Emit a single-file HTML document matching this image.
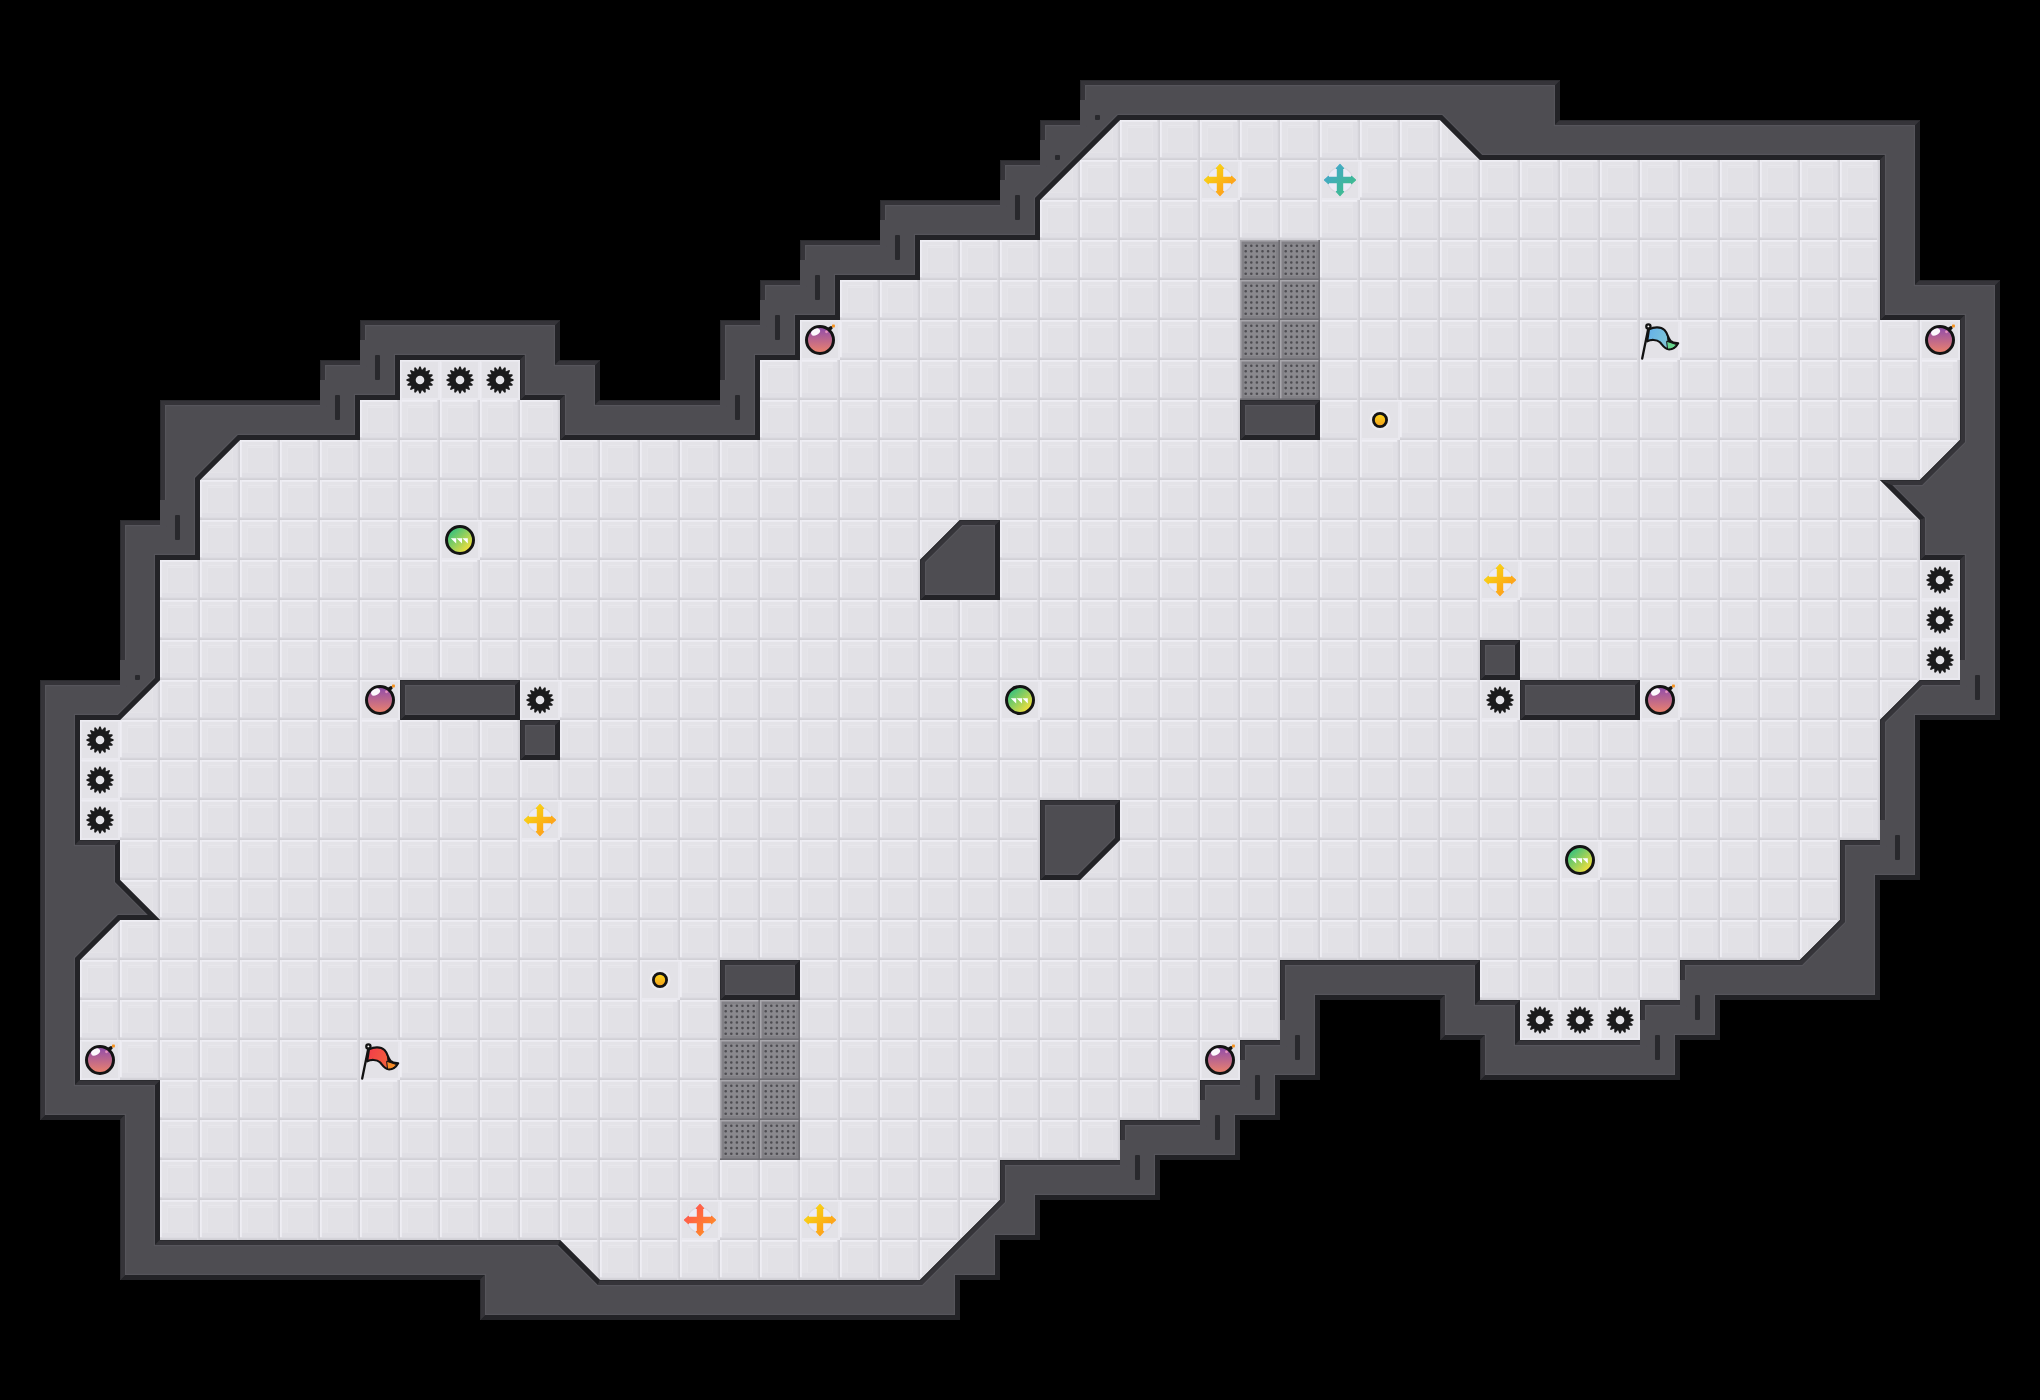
<!DOCTYPE html><html><head><meta charset="utf-8"><title>Map</title><style>html,body{margin:0;padding:0;background:#000}svg{display:block}</style></head><body>
<svg width="2040" height="1400" viewBox="0 0 2040 1400">
<defs>
<pattern id="fl" width="40" height="40" patternUnits="userSpaceOnUse">
<rect width="40" height="40" fill="#e2e1e6"/>
<rect width="40" height="7" fill="#e4e3e8"/><rect width="7" height="40" fill="#e4e3e8"/>
<rect y="33" width="40" height="7" fill="#e0dfe5"/><rect x="33" width="7" height="40" fill="#e0dfe5"/>
<path d="M7 7h26v1h-25v25h-1z" fill="#e6e5ea"/>
<path d="M33 33h-26l1 -1h24v-24l1 -1z" fill="#e4e3e8"/>
<rect x="8" y="5" width="24" height="1" fill="#e8e7ec"/>
<rect width="40" height="1" fill="#efeef4"/><rect y="1" width="40" height="1" fill="#ecebf1"/>
<rect width="1" height="40" fill="#efeef4"/><rect x="1" width="1" height="40" fill="#ecebf1"/>
<rect y="39" width="40" height="1" fill="#d1d0d6"/><rect y="38" width="40" height="1" fill="#d5d4da"/><rect y="37" width="40" height="1" fill="#dddce2"/>
<rect x="39" width="1" height="40" fill="#d1d0d6"/><rect x="38" width="1" height="40" fill="#d5d4da"/><rect x="37" width="1" height="40" fill="#dddce2"/>
</pattern>
<g id="ft"><rect width="40" height="40" fill="#e9e8ee"/><rect x="2" y="2" width="36" height="36" fill="#e3e2e7"/><rect width="40" height="1" fill="#edecf2"/><rect width="1" height="40" fill="#edecf2"/></g>
<linearGradient id="gb" x1="0" y1="0" x2="0" y2="1"><stop offset="0.1" stop-color="#9650a8"/><stop offset="1" stop-color="#ee846a"/></linearGradient>
<linearGradient id="gp" x1="0.15" y1="0.15" x2="0.85" y2="0.85"><stop offset="0" stop-color="#35c07e"/><stop offset="1" stop-color="#f6e03a"/></linearGradient>
<linearGradient id="gy" x1="0.1" y1="0.1" x2="0.9" y2="0.9"><stop offset="0" stop-color="#f7da12"/><stop offset="1" stop-color="#ff981c"/></linearGradient>
<linearGradient id="gbl" x1="0.1" y1="0.1" x2="0.9" y2="0.9"><stop offset="0" stop-color="#43a5d0"/><stop offset="1" stop-color="#3cbe86"/></linearGradient>
<linearGradient id="grd" x1="0.1" y1="0.1" x2="0.9" y2="0.9"><stop offset="0" stop-color="#ff5252"/><stop offset="1" stop-color="#ff8f24"/></linearGradient>
<linearGradient id="gbt" x1="0" y1="0" x2="0" y2="1"><stop offset="0" stop-color="#fcd81a"/><stop offset="1" stop-color="#f4a01e"/></linearGradient>
<linearGradient id="gfb" x1="0" y1="0" x2="1" y2="0.3"><stop offset="0" stop-color="#62aeea"/><stop offset="1" stop-color="#86ccd2"/></linearGradient>
<linearGradient id="gfr" x1="0" y1="0" x2="1" y2="0.3"><stop offset="0" stop-color="#f23a4a"/><stop offset="1" stop-color="#f2683a"/></linearGradient>
<g id="spike"><path d="M-1.99 -10 -0.66 -13.58 0.66 -13.58 1.99 -10 1.99 -10 4.58 -12.8 5.81 -12.3 5.67 -8.48 5.67 -8.48 9.14 -10.07 10.07 -9.14 8.48 -5.67 8.48 -5.67 12.3 -5.81 12.8 -4.58 10 -1.99 10 -1.99 13.58 -0.66 13.58 0.66 10 1.99 10 1.99 12.8 4.58 12.3 5.81 8.48 5.67 8.48 5.67 10.07 9.14 9.14 10.07 5.67 8.48 5.67 8.48 5.81 12.3 4.58 12.8 1.99 10 1.99 10 0.66 13.58 -0.66 13.58 -1.99 10 -1.99 10 -4.58 12.8 -5.81 12.3 -5.67 8.48 -5.67 8.48 -9.14 10.07 -10.07 9.14 -8.48 5.67 -8.48 5.67 -12.3 5.81 -12.8 4.58 -10 1.99 -10 1.99 -13.58 0.66 -13.58 -0.66 -10 -1.99 -10 -1.99 -12.8 -4.58 -12.3 -5.81 -8.48 -5.67 -8.48 -5.67 -10.07 -9.14 -9.14 -10.07 -5.67 -8.48 -5.67 -8.48 -5.81 -12.3 -4.58 -12.8 -1.99 -10z" fill="#1b1b1c"/><circle r="10.3" fill="#1b1b1c"/><circle r="4.3" fill="#e4e3e8"/></g>
<g id="bomb"><path d="M8.5 -10.5L10.8 -12" stroke="#141414" stroke-width="3.6" stroke-linecap="round"/><circle r="13.5" fill="url(#gb)" stroke="#141414" stroke-width="3"/><ellipse cx="-4.4" cy="-7.9" rx="4.8" ry="3.1" transform="rotate(-28 -4.4 -7.9)" fill="#fff" opacity="0.96"/><circle cx="6.5" cy="-8.2" r="1.4" fill="#f6a0c0" opacity="0.8"/><rect x="12" y="-15.4" width="2.9" height="2.9" rx="0.7" fill="#f7931e"/></g>
<g id="pup"><circle r="13.5" fill="url(#gp)" stroke="#141414" stroke-width="3"/><path d="M-9.2 -1.8h5.4v5.4zM-3.4 -1.8h5.4v5.4zM2.4 -1.8h5.4v5.4z" fill="#fff"/></g>
<g id="by"><circle r="13.2" fill="#cfced6" opacity="0.45"/><circle r="12" fill="#ecebf6"/><path d="M-2.6 -11.6L-3.6 -11.6L0 -15.5L3.6 -11.6L2.6 -11.6L2.6 -2.6L11.6 -2.6L11.6 -3.6L15.5 0L11.6 3.6L11.6 2.6L2.6 2.6L2.6 11.6L3.6 11.6L0 15.5L-3.6 11.6L-2.6 11.6L-2.6 2.6L-11.6 2.6L-11.6 3.6L-15.5 0L-11.6 -3.6L-11.6 -2.6L-2.6 -2.6z" fill="url(#gy)" stroke="url(#gy)" stroke-width="1.2" stroke-linejoin="round"/></g>
<g id="bb"><circle r="13.2" fill="#cfced6" opacity="0.45"/><circle r="12" fill="#ecebf6"/><path d="M-2.6 -11.6L-3.6 -11.6L0 -15.5L3.6 -11.6L2.6 -11.6L2.6 -2.6L11.6 -2.6L11.6 -3.6L15.5 0L11.6 3.6L11.6 2.6L2.6 2.6L2.6 11.6L3.6 11.6L0 15.5L-3.6 11.6L-2.6 11.6L-2.6 2.6L-11.6 2.6L-11.6 3.6L-15.5 0L-11.6 -3.6L-11.6 -2.6L-2.6 -2.6z" fill="url(#gbl)" stroke="url(#gbl)" stroke-width="1.2" stroke-linejoin="round"/></g>
<g id="br"><circle r="13.2" fill="#cfced6" opacity="0.45"/><circle r="12" fill="#ecebf6"/><path d="M-2.6 -11.6L-3.6 -11.6L0 -15.5L3.6 -11.6L2.6 -11.6L2.6 -2.6L11.6 -2.6L11.6 -3.6L15.5 0L11.6 3.6L11.6 2.6L2.6 2.6L2.6 11.6L3.6 11.6L0 15.5L-3.6 11.6L-2.6 11.6L-2.6 2.6L-11.6 2.6L-11.6 3.6L-15.5 0L-11.6 -3.6L-11.6 -2.6L-2.6 -2.6z" fill="url(#grd)" stroke="url(#grd)" stroke-width="1.2" stroke-linejoin="round"/></g>
<g id="btn"><circle r="10.5" fill="#fff" opacity="0.3"/><circle r="6.6" fill="url(#gbt)" stroke="#141414" stroke-width="2.8"/></g>
<g id="fb" stroke="#121212" stroke-width="2.1" stroke-linejoin="round" stroke-linecap="round"><path d="M9 9.4C13.5 7 20.5 6.2 24.5 10C27.5 13 28 18 30.5 20.8C33 23.4 36 23 38.2 23.2C36 27.2 32.5 29.6 28.2 29.3C24.3 28.9 22.6 25 20 22.3C16.5 19.3 11 19.3 7.2 21.3z" fill="url(#gfb)"/><path d="M26 12C28 14.8 28 18.2 30.5 20.8C33 23.4 36 23 38.2 23.2C37.8 24 37.4 24.6 37 25.2L27.4 21.6C27.2 18.5 27 15 26 12z" fill="#121212" stroke="none"/><path d="M27 21.4L36.6 24.6C34.6 27.6 31.4 29.3 27.9 29.1z" fill="#66d48c" stroke-width="1"/><path d="M8.3 8.5L2.2 38.6" fill="none" stroke-width="2.3"/><circle cx="8.4" cy="6.4" r="2.1" fill="#fff" stroke-width="2.3"/></g>
<g id="fr" stroke="#121212" stroke-width="2.1" stroke-linejoin="round" stroke-linecap="round"><path d="M9 9.4C13.5 7 20.5 6.2 24.5 10C27.5 13 28 18 30.5 20.8C33 23.4 36 23 38.2 23.2C36 27.2 32.5 29.6 28.2 29.3C24.3 28.9 22.6 25 20 22.3C16.5 19.3 11 19.3 7.2 21.3z" fill="url(#gfr)"/><path d="M26 12C28 14.8 28 18.2 30.5 20.8C33 23.4 36 23 38.2 23.2C37.8 24 37.4 24.6 37 25.2L27.4 21.6C27.2 18.5 27 15 26 12z" fill="#121212" stroke="none"/><path d="M27 21.4L36.6 24.6C34.6 27.6 31.4 29.3 27.9 29.1z" fill="#f58a26" stroke-width="1"/><path d="M8.3 8.5L2.2 38.6" fill="none" stroke-width="2.3"/><circle cx="8.4" cy="6.4" r="2.1" fill="#fff" stroke-width="2.3"/></g>
<g id="gate"><rect width="40" height="40" fill="#828186"/><rect x="4" y="4" width="32" height="32" fill="#8a898e"/><rect width="40" height="1.5" fill="#a9a8ad"/><rect width="1.5" height="40" fill="#a9a8ad"/><rect y="38.4" width="40" height="1.6" fill="#6e6d72"/><rect x="38.4" width="1.6" height="40" fill="#6e6d72"/>
<path d="M4.4 5.7a1.3 1.3 0 1 0 2.6 0a1.3 1.3 0 1 0 -2.6 0zM4.4 11.3a1.3 1.3 0 1 0 2.6 0a1.3 1.3 0 1 0 -2.6 0zM4.4 16.9a1.3 1.3 0 1 0 2.6 0a1.3 1.3 0 1 0 -2.6 0zM4.4 22.5a1.3 1.3 0 1 0 2.6 0a1.3 1.3 0 1 0 -2.6 0zM4.4 28.1a1.3 1.3 0 1 0 2.6 0a1.3 1.3 0 1 0 -2.6 0zM4.4 33.7a1.3 1.3 0 1 0 2.6 0a1.3 1.3 0 1 0 -2.6 0zM10 5.7a1.3 1.3 0 1 0 2.6 0a1.3 1.3 0 1 0 -2.6 0zM10 11.3a1.3 1.3 0 1 0 2.6 0a1.3 1.3 0 1 0 -2.6 0zM10 16.9a1.3 1.3 0 1 0 2.6 0a1.3 1.3 0 1 0 -2.6 0zM10 22.5a1.3 1.3 0 1 0 2.6 0a1.3 1.3 0 1 0 -2.6 0zM10 28.1a1.3 1.3 0 1 0 2.6 0a1.3 1.3 0 1 0 -2.6 0zM10 33.7a1.3 1.3 0 1 0 2.6 0a1.3 1.3 0 1 0 -2.6 0zM15.6 5.7a1.3 1.3 0 1 0 2.6 0a1.3 1.3 0 1 0 -2.6 0zM15.6 11.3a1.3 1.3 0 1 0 2.6 0a1.3 1.3 0 1 0 -2.6 0zM15.6 16.9a1.3 1.3 0 1 0 2.6 0a1.3 1.3 0 1 0 -2.6 0zM15.6 22.5a1.3 1.3 0 1 0 2.6 0a1.3 1.3 0 1 0 -2.6 0zM15.6 28.1a1.3 1.3 0 1 0 2.6 0a1.3 1.3 0 1 0 -2.6 0zM15.6 33.7a1.3 1.3 0 1 0 2.6 0a1.3 1.3 0 1 0 -2.6 0zM21.2 5.7a1.3 1.3 0 1 0 2.6 0a1.3 1.3 0 1 0 -2.6 0zM21.2 11.3a1.3 1.3 0 1 0 2.6 0a1.3 1.3 0 1 0 -2.6 0zM21.2 16.9a1.3 1.3 0 1 0 2.6 0a1.3 1.3 0 1 0 -2.6 0zM21.2 22.5a1.3 1.3 0 1 0 2.6 0a1.3 1.3 0 1 0 -2.6 0zM21.2 28.1a1.3 1.3 0 1 0 2.6 0a1.3 1.3 0 1 0 -2.6 0zM21.2 33.7a1.3 1.3 0 1 0 2.6 0a1.3 1.3 0 1 0 -2.6 0zM26.8 5.7a1.3 1.3 0 1 0 2.6 0a1.3 1.3 0 1 0 -2.6 0zM26.8 11.3a1.3 1.3 0 1 0 2.6 0a1.3 1.3 0 1 0 -2.6 0zM26.8 16.9a1.3 1.3 0 1 0 2.6 0a1.3 1.3 0 1 0 -2.6 0zM26.8 22.5a1.3 1.3 0 1 0 2.6 0a1.3 1.3 0 1 0 -2.6 0zM26.8 28.1a1.3 1.3 0 1 0 2.6 0a1.3 1.3 0 1 0 -2.6 0zM26.8 33.7a1.3 1.3 0 1 0 2.6 0a1.3 1.3 0 1 0 -2.6 0zM32.4 5.7a1.3 1.3 0 1 0 2.6 0a1.3 1.3 0 1 0 -2.6 0zM32.4 11.3a1.3 1.3 0 1 0 2.6 0a1.3 1.3 0 1 0 -2.6 0zM32.4 16.9a1.3 1.3 0 1 0 2.6 0a1.3 1.3 0 1 0 -2.6 0zM32.4 22.5a1.3 1.3 0 1 0 2.6 0a1.3 1.3 0 1 0 -2.6 0zM32.4 28.1a1.3 1.3 0 1 0 2.6 0a1.3 1.3 0 1 0 -2.6 0zM32.4 33.7a1.3 1.3 0 1 0 2.6 0a1.3 1.3 0 1 0 -2.6 0z" fill="#4d4c51"/></g>
</defs>
<rect width="2040" height="1400" fill="#000"/>
<path d="M1080 120h40v40h-40zM1120 120h40v40h-40zM1160 120h40v40h-40zM1200 120h40v40h-40zM1240 120h40v40h-40zM1280 120h40v40h-40zM1320 120h40v40h-40zM1360 120h40v40h-40zM1400 120h40v40h-40zM1440 120h40v40h-40zM1040 160h40v40h-40zM1080 160h40v40h-40zM1120 160h40v40h-40zM1160 160h40v40h-40zM1200 160h40v40h-40zM1240 160h40v40h-40zM1280 160h40v40h-40zM1320 160h40v40h-40zM1360 160h40v40h-40zM1400 160h40v40h-40zM1440 160h40v40h-40zM1480 160h40v40h-40zM1520 160h40v40h-40zM1560 160h40v40h-40zM1600 160h40v40h-40zM1640 160h40v40h-40zM1680 160h40v40h-40zM1720 160h40v40h-40zM1760 160h40v40h-40zM1800 160h40v40h-40zM1840 160h40v40h-40zM1040 200h40v40h-40zM1080 200h40v40h-40zM1120 200h40v40h-40zM1160 200h40v40h-40zM1200 200h40v40h-40zM1240 200h40v40h-40zM1280 200h40v40h-40zM1320 200h40v40h-40zM1360 200h40v40h-40zM1400 200h40v40h-40zM1440 200h40v40h-40zM1480 200h40v40h-40zM1520 200h40v40h-40zM1560 200h40v40h-40zM1600 200h40v40h-40zM1640 200h40v40h-40zM1680 200h40v40h-40zM1720 200h40v40h-40zM1760 200h40v40h-40zM1800 200h40v40h-40zM1840 200h40v40h-40zM920 240h40v40h-40zM960 240h40v40h-40zM1000 240h40v40h-40zM1040 240h40v40h-40zM1080 240h40v40h-40zM1120 240h40v40h-40zM1160 240h40v40h-40zM1200 240h40v40h-40zM1240 240h40v40h-40zM1280 240h40v40h-40zM1320 240h40v40h-40zM1360 240h40v40h-40zM1400 240h40v40h-40zM1440 240h40v40h-40zM1480 240h40v40h-40zM1520 240h40v40h-40zM1560 240h40v40h-40zM1600 240h40v40h-40zM1640 240h40v40h-40zM1680 240h40v40h-40zM1720 240h40v40h-40zM1760 240h40v40h-40zM1800 240h40v40h-40zM1840 240h40v40h-40zM840 280h40v40h-40zM880 280h40v40h-40zM920 280h40v40h-40zM960 280h40v40h-40zM1000 280h40v40h-40zM1040 280h40v40h-40zM1080 280h40v40h-40zM1120 280h40v40h-40zM1160 280h40v40h-40zM1200 280h40v40h-40zM1240 280h40v40h-40zM1280 280h40v40h-40zM1320 280h40v40h-40zM1360 280h40v40h-40zM1400 280h40v40h-40zM1440 280h40v40h-40zM1480 280h40v40h-40zM1520 280h40v40h-40zM1560 280h40v40h-40zM1600 280h40v40h-40zM1640 280h40v40h-40zM1680 280h40v40h-40zM1720 280h40v40h-40zM1760 280h40v40h-40zM1800 280h40v40h-40zM1840 280h40v40h-40zM800 320h40v40h-40zM840 320h40v40h-40zM880 320h40v40h-40zM920 320h40v40h-40zM960 320h40v40h-40zM1000 320h40v40h-40zM1040 320h40v40h-40zM1080 320h40v40h-40zM1120 320h40v40h-40zM1160 320h40v40h-40zM1200 320h40v40h-40zM1240 320h40v40h-40zM1280 320h40v40h-40zM1320 320h40v40h-40zM1360 320h40v40h-40zM1400 320h40v40h-40zM1440 320h40v40h-40zM1480 320h40v40h-40zM1520 320h40v40h-40zM1560 320h40v40h-40zM1600 320h40v40h-40zM1640 320h40v40h-40zM1680 320h40v40h-40zM1720 320h40v40h-40zM1760 320h40v40h-40zM1800 320h40v40h-40zM1840 320h40v40h-40zM1880 320h40v40h-40zM1920 320h40v40h-40zM400 360h40v40h-40zM440 360h40v40h-40zM480 360h40v40h-40zM760 360h40v40h-40zM800 360h40v40h-40zM840 360h40v40h-40zM880 360h40v40h-40zM920 360h40v40h-40zM960 360h40v40h-40zM1000 360h40v40h-40zM1040 360h40v40h-40zM1080 360h40v40h-40zM1120 360h40v40h-40zM1160 360h40v40h-40zM1200 360h40v40h-40zM1240 360h40v40h-40zM1280 360h40v40h-40zM1320 360h40v40h-40zM1360 360h40v40h-40zM1400 360h40v40h-40zM1440 360h40v40h-40zM1480 360h40v40h-40zM1520 360h40v40h-40zM1560 360h40v40h-40zM1600 360h40v40h-40zM1640 360h40v40h-40zM1680 360h40v40h-40zM1720 360h40v40h-40zM1760 360h40v40h-40zM1800 360h40v40h-40zM1840 360h40v40h-40zM1880 360h40v40h-40zM1920 360h40v40h-40zM360 400h40v40h-40zM400 400h40v40h-40zM440 400h40v40h-40zM480 400h40v40h-40zM520 400h40v40h-40zM760 400h40v40h-40zM800 400h40v40h-40zM840 400h40v40h-40zM880 400h40v40h-40zM920 400h40v40h-40zM960 400h40v40h-40zM1000 400h40v40h-40zM1040 400h40v40h-40zM1080 400h40v40h-40zM1120 400h40v40h-40zM1160 400h40v40h-40zM1200 400h40v40h-40zM1320 400h40v40h-40zM1360 400h40v40h-40zM1400 400h40v40h-40zM1440 400h40v40h-40zM1480 400h40v40h-40zM1520 400h40v40h-40zM1560 400h40v40h-40zM1600 400h40v40h-40zM1640 400h40v40h-40zM1680 400h40v40h-40zM1720 400h40v40h-40zM1760 400h40v40h-40zM1800 400h40v40h-40zM1840 400h40v40h-40zM1880 400h40v40h-40zM1920 400h40v40h-40zM200 440h40v40h-40zM240 440h40v40h-40zM280 440h40v40h-40zM320 440h40v40h-40zM360 440h40v40h-40zM400 440h40v40h-40zM440 440h40v40h-40zM480 440h40v40h-40zM520 440h40v40h-40zM560 440h40v40h-40zM600 440h40v40h-40zM640 440h40v40h-40zM680 440h40v40h-40zM720 440h40v40h-40zM760 440h40v40h-40zM800 440h40v40h-40zM840 440h40v40h-40zM880 440h40v40h-40zM920 440h40v40h-40zM960 440h40v40h-40zM1000 440h40v40h-40zM1040 440h40v40h-40zM1080 440h40v40h-40zM1120 440h40v40h-40zM1160 440h40v40h-40zM1200 440h40v40h-40zM1240 440h40v40h-40zM1280 440h40v40h-40zM1320 440h40v40h-40zM1360 440h40v40h-40zM1400 440h40v40h-40zM1440 440h40v40h-40zM1480 440h40v40h-40zM1520 440h40v40h-40zM1560 440h40v40h-40zM1600 440h40v40h-40zM1640 440h40v40h-40zM1680 440h40v40h-40zM1720 440h40v40h-40zM1760 440h40v40h-40zM1800 440h40v40h-40zM1840 440h40v40h-40zM1880 440h40v40h-40zM1920 440h40v40h-40zM200 480h40v40h-40zM240 480h40v40h-40zM280 480h40v40h-40zM320 480h40v40h-40zM360 480h40v40h-40zM400 480h40v40h-40zM440 480h40v40h-40zM480 480h40v40h-40zM520 480h40v40h-40zM560 480h40v40h-40zM600 480h40v40h-40zM640 480h40v40h-40zM680 480h40v40h-40zM720 480h40v40h-40zM760 480h40v40h-40zM800 480h40v40h-40zM840 480h40v40h-40zM880 480h40v40h-40zM920 480h40v40h-40zM960 480h40v40h-40zM1000 480h40v40h-40zM1040 480h40v40h-40zM1080 480h40v40h-40zM1120 480h40v40h-40zM1160 480h40v40h-40zM1200 480h40v40h-40zM1240 480h40v40h-40zM1280 480h40v40h-40zM1320 480h40v40h-40zM1360 480h40v40h-40zM1400 480h40v40h-40zM1440 480h40v40h-40zM1480 480h40v40h-40zM1520 480h40v40h-40zM1560 480h40v40h-40zM1600 480h40v40h-40zM1640 480h40v40h-40zM1680 480h40v40h-40zM1720 480h40v40h-40zM1760 480h40v40h-40zM1800 480h40v40h-40zM1840 480h40v40h-40zM1880 480h40v40h-40zM200 520h40v40h-40zM240 520h40v40h-40zM280 520h40v40h-40zM320 520h40v40h-40zM360 520h40v40h-40zM400 520h40v40h-40zM440 520h40v40h-40zM480 520h40v40h-40zM520 520h40v40h-40zM560 520h40v40h-40zM600 520h40v40h-40zM640 520h40v40h-40zM680 520h40v40h-40zM720 520h40v40h-40zM760 520h40v40h-40zM800 520h40v40h-40zM840 520h40v40h-40zM880 520h40v40h-40zM920 520h40v40h-40zM1000 520h40v40h-40zM1040 520h40v40h-40zM1080 520h40v40h-40zM1120 520h40v40h-40zM1160 520h40v40h-40zM1200 520h40v40h-40zM1240 520h40v40h-40zM1280 520h40v40h-40zM1320 520h40v40h-40zM1360 520h40v40h-40zM1400 520h40v40h-40zM1440 520h40v40h-40zM1480 520h40v40h-40zM1520 520h40v40h-40zM1560 520h40v40h-40zM1600 520h40v40h-40zM1640 520h40v40h-40zM1680 520h40v40h-40zM1720 520h40v40h-40zM1760 520h40v40h-40zM1800 520h40v40h-40zM1840 520h40v40h-40zM1880 520h40v40h-40zM160 560h40v40h-40zM200 560h40v40h-40zM240 560h40v40h-40zM280 560h40v40h-40zM320 560h40v40h-40zM360 560h40v40h-40zM400 560h40v40h-40zM440 560h40v40h-40zM480 560h40v40h-40zM520 560h40v40h-40zM560 560h40v40h-40zM600 560h40v40h-40zM640 560h40v40h-40zM680 560h40v40h-40zM720 560h40v40h-40zM760 560h40v40h-40zM800 560h40v40h-40zM840 560h40v40h-40zM880 560h40v40h-40zM1000 560h40v40h-40zM1040 560h40v40h-40zM1080 560h40v40h-40zM1120 560h40v40h-40zM1160 560h40v40h-40zM1200 560h40v40h-40zM1240 560h40v40h-40zM1280 560h40v40h-40zM1320 560h40v40h-40zM1360 560h40v40h-40zM1400 560h40v40h-40zM1440 560h40v40h-40zM1480 560h40v40h-40zM1520 560h40v40h-40zM1560 560h40v40h-40zM1600 560h40v40h-40zM1640 560h40v40h-40zM1680 560h40v40h-40zM1720 560h40v40h-40zM1760 560h40v40h-40zM1800 560h40v40h-40zM1840 560h40v40h-40zM1880 560h40v40h-40zM1920 560h40v40h-40zM160 600h40v40h-40zM200 600h40v40h-40zM240 600h40v40h-40zM280 600h40v40h-40zM320 600h40v40h-40zM360 600h40v40h-40zM400 600h40v40h-40zM440 600h40v40h-40zM480 600h40v40h-40zM520 600h40v40h-40zM560 600h40v40h-40zM600 600h40v40h-40zM640 600h40v40h-40zM680 600h40v40h-40zM720 600h40v40h-40zM760 600h40v40h-40zM800 600h40v40h-40zM840 600h40v40h-40zM880 600h40v40h-40zM920 600h40v40h-40zM960 600h40v40h-40zM1000 600h40v40h-40zM1040 600h40v40h-40zM1080 600h40v40h-40zM1120 600h40v40h-40zM1160 600h40v40h-40zM1200 600h40v40h-40zM1240 600h40v40h-40zM1280 600h40v40h-40zM1320 600h40v40h-40zM1360 600h40v40h-40zM1400 600h40v40h-40zM1440 600h40v40h-40zM1480 600h40v40h-40zM1520 600h40v40h-40zM1560 600h40v40h-40zM1600 600h40v40h-40zM1640 600h40v40h-40zM1680 600h40v40h-40zM1720 600h40v40h-40zM1760 600h40v40h-40zM1800 600h40v40h-40zM1840 600h40v40h-40zM1880 600h40v40h-40zM1920 600h40v40h-40zM160 640h40v40h-40zM200 640h40v40h-40zM240 640h40v40h-40zM280 640h40v40h-40zM320 640h40v40h-40zM360 640h40v40h-40zM400 640h40v40h-40zM440 640h40v40h-40zM480 640h40v40h-40zM520 640h40v40h-40zM560 640h40v40h-40zM600 640h40v40h-40zM640 640h40v40h-40zM680 640h40v40h-40zM720 640h40v40h-40zM760 640h40v40h-40zM800 640h40v40h-40zM840 640h40v40h-40zM880 640h40v40h-40zM920 640h40v40h-40zM960 640h40v40h-40zM1000 640h40v40h-40zM1040 640h40v40h-40zM1080 640h40v40h-40zM1120 640h40v40h-40zM1160 640h40v40h-40zM1200 640h40v40h-40zM1240 640h40v40h-40zM1280 640h40v40h-40zM1320 640h40v40h-40zM1360 640h40v40h-40zM1400 640h40v40h-40zM1440 640h40v40h-40zM1520 640h40v40h-40zM1560 640h40v40h-40zM1600 640h40v40h-40zM1640 640h40v40h-40zM1680 640h40v40h-40zM1720 640h40v40h-40zM1760 640h40v40h-40zM1800 640h40v40h-40zM1840 640h40v40h-40zM1880 640h40v40h-40zM1920 640h40v40h-40zM120 680h40v40h-40zM160 680h40v40h-40zM200 680h40v40h-40zM240 680h40v40h-40zM280 680h40v40h-40zM320 680h40v40h-40zM360 680h40v40h-40zM520 680h40v40h-40zM560 680h40v40h-40zM600 680h40v40h-40zM640 680h40v40h-40zM680 680h40v40h-40zM720 680h40v40h-40zM760 680h40v40h-40zM800 680h40v40h-40zM840 680h40v40h-40zM880 680h40v40h-40zM920 680h40v40h-40zM960 680h40v40h-40zM1000 680h40v40h-40zM1040 680h40v40h-40zM1080 680h40v40h-40zM1120 680h40v40h-40zM1160 680h40v40h-40zM1200 680h40v40h-40zM1240 680h40v40h-40zM1280 680h40v40h-40zM1320 680h40v40h-40zM1360 680h40v40h-40zM1400 680h40v40h-40zM1440 680h40v40h-40zM1480 680h40v40h-40zM1640 680h40v40h-40zM1680 680h40v40h-40zM1720 680h40v40h-40zM1760 680h40v40h-40zM1800 680h40v40h-40zM1840 680h40v40h-40zM1880 680h40v40h-40zM80 720h40v40h-40zM120 720h40v40h-40zM160 720h40v40h-40zM200 720h40v40h-40zM240 720h40v40h-40zM280 720h40v40h-40zM320 720h40v40h-40zM360 720h40v40h-40zM400 720h40v40h-40zM440 720h40v40h-40zM480 720h40v40h-40zM560 720h40v40h-40zM600 720h40v40h-40zM640 720h40v40h-40zM680 720h40v40h-40zM720 720h40v40h-40zM760 720h40v40h-40zM800 720h40v40h-40zM840 720h40v40h-40zM880 720h40v40h-40zM920 720h40v40h-40zM960 720h40v40h-40zM1000 720h40v40h-40zM1040 720h40v40h-40zM1080 720h40v40h-40zM1120 720h40v40h-40zM1160 720h40v40h-40zM1200 720h40v40h-40zM1240 720h40v40h-40zM1280 720h40v40h-40zM1320 720h40v40h-40zM1360 720h40v40h-40zM1400 720h40v40h-40zM1440 720h40v40h-40zM1480 720h40v40h-40zM1520 720h40v40h-40zM1560 720h40v40h-40zM1600 720h40v40h-40zM1640 720h40v40h-40zM1680 720h40v40h-40zM1720 720h40v40h-40zM1760 720h40v40h-40zM1800 720h40v40h-40zM1840 720h40v40h-40zM80 760h40v40h-40zM120 760h40v40h-40zM160 760h40v40h-40zM200 760h40v40h-40zM240 760h40v40h-40zM280 760h40v40h-40zM320 760h40v40h-40zM360 760h40v40h-40zM400 760h40v40h-40zM440 760h40v40h-40zM480 760h40v40h-40zM520 760h40v40h-40zM560 760h40v40h-40zM600 760h40v40h-40zM640 760h40v40h-40zM680 760h40v40h-40zM720 760h40v40h-40zM760 760h40v40h-40zM800 760h40v40h-40zM840 760h40v40h-40zM880 760h40v40h-40zM920 760h40v40h-40zM960 760h40v40h-40zM1000 760h40v40h-40zM1040 760h40v40h-40zM1080 760h40v40h-40zM1120 760h40v40h-40zM1160 760h40v40h-40zM1200 760h40v40h-40zM1240 760h40v40h-40zM1280 760h40v40h-40zM1320 760h40v40h-40zM1360 760h40v40h-40zM1400 760h40v40h-40zM1440 760h40v40h-40zM1480 760h40v40h-40zM1520 760h40v40h-40zM1560 760h40v40h-40zM1600 760h40v40h-40zM1640 760h40v40h-40zM1680 760h40v40h-40zM1720 760h40v40h-40zM1760 760h40v40h-40zM1800 760h40v40h-40zM1840 760h40v40h-40zM80 800h40v40h-40zM120 800h40v40h-40zM160 800h40v40h-40zM200 800h40v40h-40zM240 800h40v40h-40zM280 800h40v40h-40zM320 800h40v40h-40zM360 800h40v40h-40zM400 800h40v40h-40zM440 800h40v40h-40zM480 800h40v40h-40zM520 800h40v40h-40zM560 800h40v40h-40zM600 800h40v40h-40zM640 800h40v40h-40zM680 800h40v40h-40zM720 800h40v40h-40zM760 800h40v40h-40zM800 800h40v40h-40zM840 800h40v40h-40zM880 800h40v40h-40zM920 800h40v40h-40zM960 800h40v40h-40zM1000 800h40v40h-40zM1120 800h40v40h-40zM1160 800h40v40h-40zM1200 800h40v40h-40zM1240 800h40v40h-40zM1280 800h40v40h-40zM1320 800h40v40h-40zM1360 800h40v40h-40zM1400 800h40v40h-40zM1440 800h40v40h-40zM1480 800h40v40h-40zM1520 800h40v40h-40zM1560 800h40v40h-40zM1600 800h40v40h-40zM1640 800h40v40h-40zM1680 800h40v40h-40zM1720 800h40v40h-40zM1760 800h40v40h-40zM1800 800h40v40h-40zM1840 800h40v40h-40zM120 840h40v40h-40zM160 840h40v40h-40zM200 840h40v40h-40zM240 840h40v40h-40zM280 840h40v40h-40zM320 840h40v40h-40zM360 840h40v40h-40zM400 840h40v40h-40zM440 840h40v40h-40zM480 840h40v40h-40zM520 840h40v40h-40zM560 840h40v40h-40zM600 840h40v40h-40zM640 840h40v40h-40zM680 840h40v40h-40zM720 840h40v40h-40zM760 840h40v40h-40zM800 840h40v40h-40zM840 840h40v40h-40zM880 840h40v40h-40zM920 840h40v40h-40zM960 840h40v40h-40zM1000 840h40v40h-40zM1080 840h40v40h-40zM1120 840h40v40h-40zM1160 840h40v40h-40zM1200 840h40v40h-40zM1240 840h40v40h-40zM1280 840h40v40h-40zM1320 840h40v40h-40zM1360 840h40v40h-40zM1400 840h40v40h-40zM1440 840h40v40h-40zM1480 840h40v40h-40zM1520 840h40v40h-40zM1560 840h40v40h-40zM1600 840h40v40h-40zM1640 840h40v40h-40zM1680 840h40v40h-40zM1720 840h40v40h-40zM1760 840h40v40h-40zM1800 840h40v40h-40zM120 880h40v40h-40zM160 880h40v40h-40zM200 880h40v40h-40zM240 880h40v40h-40zM280 880h40v40h-40zM320 880h40v40h-40zM360 880h40v40h-40zM400 880h40v40h-40zM440 880h40v40h-40zM480 880h40v40h-40zM520 880h40v40h-40zM560 880h40v40h-40zM600 880h40v40h-40zM640 880h40v40h-40zM680 880h40v40h-40zM720 880h40v40h-40zM760 880h40v40h-40zM800 880h40v40h-40zM840 880h40v40h-40zM880 880h40v40h-40zM920 880h40v40h-40zM960 880h40v40h-40zM1000 880h40v40h-40zM1040 880h40v40h-40zM1080 880h40v40h-40zM1120 880h40v40h-40zM1160 880h40v40h-40zM1200 880h40v40h-40zM1240 880h40v40h-40zM1280 880h40v40h-40zM1320 880h40v40h-40zM1360 880h40v40h-40zM1400 880h40v40h-40zM1440 880h40v40h-40zM1480 880h40v40h-40zM1520 880h40v40h-40zM1560 880h40v40h-40zM1600 880h40v40h-40zM1640 880h40v40h-40zM1680 880h40v40h-40zM1720 880h40v40h-40zM1760 880h40v40h-40zM1800 880h40v40h-40zM80 920h40v40h-40zM120 920h40v40h-40zM160 920h40v40h-40zM200 920h40v40h-40zM240 920h40v40h-40zM280 920h40v40h-40zM320 920h40v40h-40zM360 920h40v40h-40zM400 920h40v40h-40zM440 920h40v40h-40zM480 920h40v40h-40zM520 920h40v40h-40zM560 920h40v40h-40zM600 920h40v40h-40zM640 920h40v40h-40zM680 920h40v40h-40zM720 920h40v40h-40zM760 920h40v40h-40zM800 920h40v40h-40zM840 920h40v40h-40zM880 920h40v40h-40zM920 920h40v40h-40zM960 920h40v40h-40zM1000 920h40v40h-40zM1040 920h40v40h-40zM1080 920h40v40h-40zM1120 920h40v40h-40zM1160 920h40v40h-40zM1200 920h40v40h-40zM1240 920h40v40h-40zM1280 920h40v40h-40zM1320 920h40v40h-40zM1360 920h40v40h-40zM1400 920h40v40h-40zM1440 920h40v40h-40zM1480 920h40v40h-40zM1520 920h40v40h-40zM1560 920h40v40h-40zM1600 920h40v40h-40zM1640 920h40v40h-40zM1680 920h40v40h-40zM1720 920h40v40h-40zM1760 920h40v40h-40zM1800 920h40v40h-40zM80 960h40v40h-40zM120 960h40v40h-40zM160 960h40v40h-40zM200 960h40v40h-40zM240 960h40v40h-40zM280 960h40v40h-40zM320 960h40v40h-40zM360 960h40v40h-40zM400 960h40v40h-40zM440 960h40v40h-40zM480 960h40v40h-40zM520 960h40v40h-40zM560 960h40v40h-40zM600 960h40v40h-40zM640 960h40v40h-40zM680 960h40v40h-40zM800 960h40v40h-40zM840 960h40v40h-40zM880 960h40v40h-40zM920 960h40v40h-40zM960 960h40v40h-40zM1000 960h40v40h-40zM1040 960h40v40h-40zM1080 960h40v40h-40zM1120 960h40v40h-40zM1160 960h40v40h-40zM1200 960h40v40h-40zM1240 960h40v40h-40zM1480 960h40v40h-40zM1520 960h40v40h-40zM1560 960h40v40h-40zM1600 960h40v40h-40zM1640 960h40v40h-40zM80 1000h40v40h-40zM120 1000h40v40h-40zM160 1000h40v40h-40zM200 1000h40v40h-40zM240 1000h40v40h-40zM280 1000h40v40h-40zM320 1000h40v40h-40zM360 1000h40v40h-40zM400 1000h40v40h-40zM440 1000h40v40h-40zM480 1000h40v40h-40zM520 1000h40v40h-40zM560 1000h40v40h-40zM600 1000h40v40h-40zM640 1000h40v40h-40zM680 1000h40v40h-40zM720 1000h40v40h-40zM760 1000h40v40h-40zM800 1000h40v40h-40zM840 1000h40v40h-40zM880 1000h40v40h-40zM920 1000h40v40h-40zM960 1000h40v40h-40zM1000 1000h40v40h-40zM1040 1000h40v40h-40zM1080 1000h40v40h-40zM1120 1000h40v40h-40zM1160 1000h40v40h-40zM1200 1000h40v40h-40zM1240 1000h40v40h-40zM1520 1000h40v40h-40zM1560 1000h40v40h-40zM1600 1000h40v40h-40zM80 1040h40v40h-40zM120 1040h40v40h-40zM160 1040h40v40h-40zM200 1040h40v40h-40zM240 1040h40v40h-40zM280 1040h40v40h-40zM320 1040h40v40h-40zM360 1040h40v40h-40zM400 1040h40v40h-40zM440 1040h40v40h-40zM480 1040h40v40h-40zM520 1040h40v40h-40zM560 1040h40v40h-40zM600 1040h40v40h-40zM640 1040h40v40h-40zM680 1040h40v40h-40zM720 1040h40v40h-40zM760 1040h40v40h-40zM800 1040h40v40h-40zM840 1040h40v40h-40zM880 1040h40v40h-40zM920 1040h40v40h-40zM960 1040h40v40h-40zM1000 1040h40v40h-40zM1040 1040h40v40h-40zM1080 1040h40v40h-40zM1120 1040h40v40h-40zM1160 1040h40v40h-40zM1200 1040h40v40h-40zM160 1080h40v40h-40zM200 1080h40v40h-40zM240 1080h40v40h-40zM280 1080h40v40h-40zM320 1080h40v40h-40zM360 1080h40v40h-40zM400 1080h40v40h-40zM440 1080h40v40h-40zM480 1080h40v40h-40zM520 1080h40v40h-40zM560 1080h40v40h-40zM600 1080h40v40h-40zM640 1080h40v40h-40zM680 1080h40v40h-40zM720 1080h40v40h-40zM760 1080h40v40h-40zM800 1080h40v40h-40zM840 1080h40v40h-40zM880 1080h40v40h-40zM920 1080h40v40h-40zM960 1080h40v40h-40zM1000 1080h40v40h-40zM1040 1080h40v40h-40zM1080 1080h40v40h-40zM1120 1080h40v40h-40zM1160 1080h40v40h-40zM160 1120h40v40h-40zM200 1120h40v40h-40zM240 1120h40v40h-40zM280 1120h40v40h-40zM320 1120h40v40h-40zM360 1120h40v40h-40zM400 1120h40v40h-40zM440 1120h40v40h-40zM480 1120h40v40h-40zM520 1120h40v40h-40zM560 1120h40v40h-40zM600 1120h40v40h-40zM640 1120h40v40h-40zM680 1120h40v40h-40zM720 1120h40v40h-40zM760 1120h40v40h-40zM800 1120h40v40h-40zM840 1120h40v40h-40zM880 1120h40v40h-40zM920 1120h40v40h-40zM960 1120h40v40h-40zM1000 1120h40v40h-40zM1040 1120h40v40h-40zM1080 1120h40v40h-40zM160 1160h40v40h-40zM200 1160h40v40h-40zM240 1160h40v40h-40zM280 1160h40v40h-40zM320 1160h40v40h-40zM360 1160h40v40h-40zM400 1160h40v40h-40zM440 1160h40v40h-40zM480 1160h40v40h-40zM520 1160h40v40h-40zM560 1160h40v40h-40zM600 1160h40v40h-40zM640 1160h40v40h-40zM680 1160h40v40h-40zM720 1160h40v40h-40zM760 1160h40v40h-40zM800 1160h40v40h-40zM840 1160h40v40h-40zM880 1160h40v40h-40zM920 1160h40v40h-40zM960 1160h40v40h-40zM160 1200h40v40h-40zM200 1200h40v40h-40zM240 1200h40v40h-40zM280 1200h40v40h-40zM320 1200h40v40h-40zM360 1200h40v40h-40zM400 1200h40v40h-40zM440 1200h40v40h-40zM480 1200h40v40h-40zM520 1200h40v40h-40zM560 1200h40v40h-40zM600 1200h40v40h-40zM640 1200h40v40h-40zM680 1200h40v40h-40zM720 1200h40v40h-40zM760 1200h40v40h-40zM800 1200h40v40h-40zM840 1200h40v40h-40zM880 1200h40v40h-40zM920 1200h40v40h-40zM960 1200h40v40h-40zM560 1240h40v40h-40zM600 1240h40v40h-40zM640 1240h40v40h-40zM680 1240h40v40h-40zM720 1240h40v40h-40zM760 1240h40v40h-40zM800 1240h40v40h-40zM840 1240h40v40h-40zM880 1240h40v40h-40zM920 1240h40v40h-40z" fill="url(#fl)"/>
<use href="#gate" x="1240" y="240"/>
<use href="#gate" x="1240" y="280"/>
<use href="#gate" x="1240" y="320"/>
<use href="#gate" x="1240" y="360"/>
<use href="#gate" x="1280" y="240"/>
<use href="#gate" x="1280" y="280"/>
<use href="#gate" x="1280" y="320"/>
<use href="#gate" x="1280" y="360"/>
<use href="#gate" x="760" y="1120"/>
<use href="#gate" x="760" y="1080"/>
<use href="#gate" x="760" y="1040"/>
<use href="#gate" x="760" y="1000"/>
<use href="#gate" x="720" y="1120"/>
<use href="#gate" x="720" y="1080"/>
<use href="#gate" x="720" y="1040"/>
<use href="#gate" x="720" y="1000"/>
<use href="#ft" x="400" y="360"/>
<use href="#ft" x="440" y="360"/>
<use href="#ft" x="480" y="360"/>
<use href="#ft" x="1920" y="560"/>
<use href="#ft" x="1920" y="600"/>
<use href="#ft" x="1920" y="640"/>
<use href="#ft" x="520" y="680"/>
<use href="#ft" x="1600" y="1000"/>
<use href="#ft" x="1560" y="1000"/>
<use href="#ft" x="1520" y="1000"/>
<use href="#ft" x="80" y="800"/>
<use href="#ft" x="80" y="760"/>
<use href="#ft" x="80" y="720"/>
<use href="#ft" x="1480" y="680"/>
<use href="#ft" x="800" y="320"/>
<use href="#ft" x="1920" y="320"/>
<use href="#ft" x="360" y="680"/>
<use href="#ft" x="1200" y="1040"/>
<use href="#ft" x="80" y="1040"/>
<use href="#ft" x="1640" y="680"/>
<use href="#ft" x="440" y="520"/>
<use href="#ft" x="1000" y="680"/>
<use href="#ft" x="1560" y="840"/>
<use href="#ft" x="1640" y="320"/>
<use href="#ft" x="360" y="1040"/>
<use href="#ft" x="1200" y="160"/>
<use href="#ft" x="1480" y="560"/>
<use href="#ft" x="520" y="800"/>
<use href="#ft" x="800" y="1200"/>
<use href="#ft" x="1320" y="160"/>
<use href="#ft" x="680" y="1200"/>
<use href="#ft" x="1360" y="400"/>
<use href="#ft" x="640" y="960"/>
<path d="M120 520 160 520 160 400 320 400 320 360 360 360 360 320 560 320 560 360 600 360 600 400 720 400 720 320 760 320 760 280 800 280 800 240 880 240 880 200 1000 200 1000 160 1040 160 1040 120 1080 120 1080 80 1560 80 1560 120 1920 120 1920 280 2000 280 2000 720 1920 720 1920 880 1880 880 1880 1000 1720 1000 1720 1040 1680 1040 1680 1080 1480 1080 1480 1040 1440 1040 1440 1000 1320 1000 1320 1080 1280 1080 1280 1120 1240 1120 1240 1160 1160 1160 1160 1200 1040 1200 1040 1240 1000 1240 1000 1280 960 1280 960 1320 480 1320 480 1280 120 1280 120 1120 40 1120 40 680 120 680zM920 1280 1000 1200 1000 1160 1120 1160 1120 1120 1200 1120 1200 1080 1240 1080 1240 1040 1280 1040 1280 960 1480 960 1480 1000 1520 1000 1520 1040 1640 1040 1640 1000 1680 1000 1680 960 1800 960 1840 920 1840 840 1880 840 1880 720 1920 680 1960 680 1960 560 1920 560 1920 520 1880 480 1920 480 1960 440 1960 320 1880 320 1880 160 1480 160 1440 120 1120 120 1040 200 1040 240 920 240 920 280 840 280 840 320 800 320 800 360 760 360 760 440 560 440 560 400 520 400 520 360 400 360 400 400 360 400 360 440 240 440 200 480 200 560 160 560 160 680 120 720 80 720 80 840 120 840 120 880 160 920 120 920 80 960 80 1080 160 1080 160 1240 560 1240 600 1280zM400 720 400 680 520 680 520 720zM520 720 560 720 560 760 520 760zM720 960 800 960 800 1000 720 1000zM960 520 1000 520 1000 600 920 600 920 560zM1080 880 1040 880 1040 800 1120 800 1120 840zM1240 440 1240 400 1320 400 1320 440zM1520 680 1480 680 1480 640 1520 640zM1640 680 1640 720 1520 720 1520 680z" fill="#4e4d52"/>
<path d="M125 525 165 525 166.2 526.2 126.2 526.2zM165 525 165 405 166.2 406.2 166.2 526.2zM165 405 325 405 326.2 406.2 166.2 406.2zM325 405 325 365 326.2 366.2 326.2 406.2zM325 365 365 365 366.2 366.2 326.2 366.2zM365 365 365 325 366.2 326.2 366.2 366.2zM365 325 555 325 553.8 326.2 366.2 326.2zM555 325 555 365 553.8 366.2 553.8 326.2zM555 365 595 365 593.8 366.2 553.8 366.2zM595 365 595 405 593.8 406.2 593.8 366.2zM595 405 725 405 726.2 406.2 593.8 406.2zM725 405 725 325 726.2 326.2 726.2 406.2zM725 325 765 325 766.2 326.2 726.2 326.2zM765 325 765 285 766.2 286.2 766.2 326.2zM765 285 805 285 806.2 286.2 766.2 286.2zM805 285 805 245 806.2 246.2 806.2 286.2zM805 245 885 245 886.2 246.2 806.2 246.2zM885 245 885 205 886.2 206.2 886.2 246.2zM885 205 1005 205 1006.2 206.2 886.2 206.2zM1005 205 1005 165 1006.2 166.2 1006.2 206.2zM1005 165 1045 165 1046.2 166.2 1006.2 166.2zM1045 165 1045 125 1046.2 126.2 1046.2 166.2zM1045 125 1085 125 1086.2 126.2 1046.2 126.2zM1085 125 1085 85 1086.2 86.2 1086.2 126.2zM1085 85 1555 85 1553.8 86.2 1086.2 86.2zM1555 85 1555 125 1553.8 126.2 1553.8 86.2zM1555 125 1915 125 1913.8 126.2 1553.8 126.2zM1915 125 1915 285 1913.8 286.2 1913.8 126.2zM1915 285 1995 285 1993.8 286.2 1913.8 286.2zM1995 285 1995 715 1993.8 713.8 1993.8 286.2zM1995 715 1915 715 1913.8 713.8 1993.8 713.8zM1915 715 1915 875 1913.8 873.8 1913.8 713.8zM1915 875 1875 875 1873.8 873.8 1913.8 873.8zM1875 875 1875 995 1873.8 993.8 1873.8 873.8zM1875 995 1715 995 1713.8 993.8 1873.8 993.8zM1715 995 1715 1035 1713.8 1033.8 1713.8 993.8zM1715 1035 1675 1035 1673.8 1033.8 1713.8 1033.8zM1675 1035 1675 1075 1673.8 1073.8 1673.8 1033.8zM1675 1075 1485 1075 1486.2 1073.8 1673.8 1073.8zM1485 1075 1485 1035 1486.2 1033.8 1486.2 1073.8zM1485 1035 1445 1035 1446.2 1033.8 1486.2 1033.8zM1445 1035 1445 995 1446.2 993.8 1446.2 1033.8zM1445 995 1315 995 1313.8 993.8 1446.2 993.8zM1315 995 1315 1075 1313.8 1073.8 1313.8 993.8zM1315 1075 1275 1075 1273.8 1073.8 1313.8 1073.8zM1275 1075 1275 1115 1273.8 1113.8 1273.8 1073.8zM1275 1115 1235 1115 1233.8 1113.8 1273.8 1113.8zM1235 1115 1235 1155 1233.8 1153.8 1233.8 1113.8zM1235 1155 1155 1155 1153.8 1153.8 1233.8 1153.8zM1155 1155 1155 1195 1153.8 1193.8 1153.8 1153.8zM1155 1195 1035 1195 1033.8 1193.8 1153.8 1193.8zM1035 1195 1035 1235 1033.8 1233.8 1033.8 1193.8zM1035 1235 995 1235 993.8 1233.8 1033.8 1233.8zM995 1235 995 1275 993.8 1273.8 993.8 1233.8zM995 1275 955 1275 953.8 1273.8 993.8 1273.8zM955 1275 955 1315 953.8 1313.8 953.8 1273.8zM955 1315 485 1315 486.2 1313.8 953.8 1313.8zM485 1315 485 1275 486.2 1273.8 486.2 1313.8zM485 1275 125 1275 126.2 1273.8 486.2 1273.8zM125 1275 125 1115 126.2 1113.8 126.2 1273.8zM125 1115 45 1115 46.2 1113.8 126.2 1113.8zM45 1115 45 685 46.2 686.2 46.2 1113.8zM45 685 125 685 126.2 686.2 46.2 686.2zM125 685 125 525 126.2 526.2 126.2 686.2zM922.07 1285 1005 1202.07 1006.2 1202.57 922.57 1286.2zM1005 1202.07 1005 1165 1006.2 1166.2 1006.2 1202.57zM1005 1165 1125 1165 1126.2 1166.2 1006.2 1166.2zM1125 1165 1125 1125 1126.2 1126.2 1126.2 1166.2zM1125 1125 1205 1125 1206.2 1126.2 1126.2 1126.2zM1205 1125 1205 1085 1206.2 1086.2 1206.2 1126.2zM1205 1085 1245 1085 1246.2 1086.2 1206.2 1086.2zM1245 1085 1245 1045 1246.2 1046.2 1246.2 1086.2zM1245 1045 1285 1045 1286.2 1046.2 1246.2 1046.2zM1285 1045 1285 965 1286.2 966.2 1286.2 1046.2zM1285 965 1475 965 1473.8 966.2 1286.2 966.2zM1475 965 1475 1005 1473.8 1006.2 1473.8 966.2zM1475 1005 1515 1005 1513.8 1006.2 1473.8 1006.2zM1515 1005 1515 1045 1513.8 1046.2 1513.8 1006.2zM1515 1045 1645 1045 1646.2 1046.2 1513.8 1046.2zM1645 1045 1645 1005 1646.2 1006.2 1646.2 1046.2zM1645 1005 1685 1005 1686.2 1006.2 1646.2 1006.2zM1685 1005 1685 965 1686.2 966.2 1686.2 1006.2zM1685 965 1802.07 965 1802.57 966.2 1686.2 966.2zM1802.07 965 1845 922.07 1846.2 922.57 1802.57 966.2zM1845 922.07 1845 845 1846.2 846.2 1846.2 922.57zM1845 845 1885 845 1886.2 846.2 1846.2 846.2zM1885 845 1885 722.07 1886.2 722.57 1886.2 846.2zM1885 722.07 1922.07 685 1922.57 686.2 1886.2 722.57zM1922.07 685 1965 685 1966.2 686.2 1922.57 686.2zM1965 685 1965 555 1966.2 553.8 1966.2 686.2zM1965 555 1925 555 1926.2 553.8 1966.2 553.8zM1925 555 1925 517.93 1926.2 517.43 1926.2 553.8zM1925 517.93 1892.07 485 1894.97 486.2 1926.2 517.43zM1892.07 485 1922.07 485 1922.57 486.2 1894.97 486.2zM1922.07 485 1965 442.07 1966.2 442.57 1922.57 486.2zM1965 442.07 1965 315 1966.2 313.8 1966.2 442.57zM1965 315 1885 315 1886.2 313.8 1966.2 313.8zM1885 315 1885 155 1886.2 153.8 1886.2 313.8zM1885 155 1482.07 155 1482.57 153.8 1886.2 153.8zM1482.07 155 1442.07 115 1442.57 113.8 1482.57 153.8zM1442.07 115 1117.93 115 1117.43 113.8 1442.57 113.8zM1117.93 115 1035 197.93 1033.8 197.43 1117.43 113.8zM1035 197.93 1035 235 1033.8 233.8 1033.8 197.43zM1035 235 915 235 913.8 233.8 1033.8 233.8zM915 235 915 275 913.8 273.8 913.8 233.8zM915 275 835 275 833.8 273.8 913.8 273.8zM835 275 835 315 833.8 313.8 833.8 273.8zM835 315 795 315 793.8 313.8 833.8 313.8zM795 315 795 355 793.8 353.8 793.8 313.8zM795 355 755 355 753.8 353.8 793.8 353.8zM755 355 755 435 753.8 433.8 753.8 353.8zM755 435 565 435 566.2 433.8 753.8 433.8zM565 435 565 395 566.2 393.8 566.2 433.8zM565 395 525 395 526.2 393.8 566.2 393.8zM525 395 525 355 526.2 353.8 526.2 393.8zM525 355 395 355 393.8 353.8 526.2 353.8zM395 355 395 395 393.8 393.8 393.8 353.8zM395 395 355 395 353.8 393.8 393.8 393.8zM355 395 355 435 353.8 433.8 353.8 393.8zM355 435 237.93 435 237.43 433.8 353.8 433.8zM237.93 435 195 477.93 193.8 477.43 237.43 433.8zM195 477.93 195 555 193.8 553.8 193.8 477.43zM195 555 155 555 153.8 553.8 193.8 553.8zM155 555 155 677.93 153.8 677.43 153.8 553.8zM155 677.93 117.93 715 117.43 713.8 153.8 677.43zM117.93 715 75 715 73.8 713.8 117.43 713.8zM75 715 75 845 73.8 846.2 73.8 713.8zM75 845 115 845 113.8 846.2 73.8 846.2zM115 845 115 882.07 113.8 882.57 113.8 846.2zM115 882.07 147.93 915 145.03 913.8 113.8 882.57zM147.93 915 117.93 915 117.43 913.8 145.03 913.8zM117.93 915 75 957.93 73.8 957.43 117.43 913.8zM75 957.93 75 1085 73.8 1086.2 73.8 957.43zM75 1085 155 1085 153.8 1086.2 73.8 1086.2zM155 1085 155 1245 153.8 1246.2 153.8 1086.2zM155 1245 557.93 1245 557.43 1246.2 153.8 1246.2zM557.93 1245 597.93 1285 597.43 1286.2 557.43 1246.2zM597.93 1285 922.07 1285 922.57 1286.2 597.43 1286.2zM405 715 405 685 406.2 686.2 406.2 713.8zM405 685 515 685 513.8 686.2 406.2 686.2zM515 685 515 715 513.8 713.8 513.8 686.2zM515 715 405 715 406.2 713.8 513.8 713.8zM525 725 555 725 553.8 726.2 526.2 726.2zM555 725 555 755 553.8 753.8 553.8 726.2zM555 755 525 755 526.2 753.8 553.8 753.8zM525 755 525 725 526.2 726.2 526.2 753.8zM725 965 795 965 793.8 966.2 726.2 966.2zM795 965 795 995 793.8 993.8 793.8 966.2zM795 995 725 995 726.2 993.8 793.8 993.8zM725 995 725 965 726.2 966.2 726.2 993.8zM962.07 525 995 525 993.8 526.2 962.57 526.2zM995 525 995 595 993.8 593.8 993.8 526.2zM995 595 925 595 926.2 593.8 993.8 593.8zM925 595 925 562.07 926.2 562.57 926.2 593.8zM925 562.07 962.07 525 962.57 526.2 926.2 562.57zM1077.93 875 1045 875 1046.2 873.8 1077.43 873.8zM1045 875 1045 805 1046.2 806.2 1046.2 873.8zM1045 805 1115 805 1113.8 806.2 1046.2 806.2zM1115 805 1115 837.93 1113.8 837.43 1113.8 806.2zM1115 837.93 1077.93 875 1077.43 873.8 1113.8 837.43zM1245 435 1245 405 1246.2 406.2 1246.2 433.8zM1245 405 1315 405 1313.8 406.2 1246.2 406.2zM1315 405 1315 435 1313.8 433.8 1313.8 406.2zM1315 435 1245 435 1246.2 433.8 1313.8 433.8zM1515 675 1485 675 1486.2 673.8 1513.8 673.8zM1485 675 1485 645 1486.2 646.2 1486.2 673.8zM1485 645 1515 645 1513.8 646.2 1486.2 646.2zM1515 645 1515 675 1513.8 673.8 1513.8 646.2zM1635 685 1635 715 1633.8 713.8 1633.8 686.2zM1635 715 1525 715 1526.2 713.8 1633.8 713.8zM1525 715 1525 685 1526.2 686.2 1526.2 713.8zM1525 685 1635 685 1633.8 686.2 1526.2 686.2z" fill="#56555b"/>
<path d="M120 520 160 520 165 525 125 525zM160 520 160 400 165 405 165 525zM160 400 320 400 325 405 165 405zM320 400 320 360 325 365 325 405zM320 360 360 360 365 365 325 365zM360 360 360 320 365 325 365 365zM360 320 560 320 555 325 365 325zM560 360 600 360 595 365 555 365zM600 400 720 400 725 405 595 405zM720 400 720 320 725 325 725 405zM720 320 760 320 765 325 725 325zM760 320 760 280 765 285 765 325zM760 280 800 280 805 285 765 285zM800 280 800 240 805 245 805 285zM800 240 880 240 885 245 805 245zM880 240 880 200 885 205 885 245zM880 200 1000 200 1005 205 885 205zM1000 200 1000 160 1005 165 1005 205zM1000 160 1040 160 1045 165 1005 165zM1040 160 1040 120 1045 125 1045 165zM1040 120 1080 120 1085 125 1045 125zM1080 120 1080 80 1085 85 1085 125zM1080 80 1560 80 1555 85 1085 85zM1560 120 1920 120 1915 125 1555 125zM1920 280 2000 280 1995 285 1915 285zM1480 1080 1480 1040 1485 1035 1485 1075zM1440 1040 1440 1000 1445 995 1445 1035zM480 1320 480 1280 485 1275 485 1315zM120 1280 120 1120 125 1115 125 1275zM40 1120 40 680 45 685 45 1115zM40 680 120 680 125 685 45 685zM120 680 120 520 125 525 125 685zM920 1280 1000 1200 1005 1202.07 922.07 1285zM1000 1200 1000 1160 1005 1165 1005 1202.07zM1000 1160 1120 1160 1125 1165 1005 1165zM1120 1160 1120 1120 1125 1125 1125 1165zM1120 1120 1200 1120 1205 1125 1125 1125zM1200 1120 1200 1080 1205 1085 1205 1125zM1200 1080 1240 1080 1245 1085 1205 1085zM1240 1080 1240 1040 1245 1045 1245 1085zM1240 1040 1280 1040 1285 1045 1245 1045zM1280 1040 1280 960 1285 965 1285 1045zM1280 960 1480 960 1475 965 1285 965zM1480 1000 1520 1000 1515 1005 1475 1005zM1520 1040 1640 1040 1645 1045 1515 1045zM1640 1040 1640 1000 1645 1005 1645 1045zM1640 1000 1680 1000 1685 1005 1645 1005zM1680 1000 1680 960 1685 965 1685 1005zM1680 960 1800 960 1802.07 965 1685 965zM1800 960 1840 920 1845 922.07 1802.07 965zM1840 920 1840 840 1845 845 1845 922.07zM1840 840 1880 840 1885 845 1845 845zM1880 840 1880 720 1885 722.07 1885 845zM1880 720 1920 680 1922.07 685 1885 722.07zM1920 680 1960 680 1965 685 1922.07 685zM1960 680 1960 560 1965 555 1965 685zM1920 560 1920 520 1925 517.93 1925 555zM1880 480 1920 480 1922.07 485 1892.07 485zM1920 480 1960 440 1965 442.07 1922.07 485zM1960 440 1960 320 1965 315 1965 442.07zM1880 320 1880 160 1885 155 1885 315zM560 440 560 400 565 395 565 435zM520 400 520 360 525 355 525 395zM80 840 120 840 115 845 75 845zM80 1080 160 1080 155 1085 75 1085zM160 1240 560 1240 557.93 1245 155 1245zM600 1280 920 1280 922.07 1285 597.93 1285zM400 720 400 680 405 685 405 715zM400 680 520 680 515 685 405 685zM520 720 560 720 555 725 525 725zM520 760 520 720 525 725 525 755zM720 960 800 960 795 965 725 965zM720 1000 720 960 725 965 725 995zM960 520 1000 520 995 525 962.07 525zM920 600 920 560 925 562.07 925 595zM920 560 960 520 962.07 525 925 562.07zM1040 880 1040 800 1045 805 1045 875zM1040 800 1120 800 1115 805 1045 805zM1240 440 1240 400 1245 405 1245 435zM1240 400 1320 400 1315 405 1245 405zM1480 680 1480 640 1485 645 1485 675zM1480 640 1520 640 1515 645 1485 645zM1520 720 1520 680 1525 685 1525 715zM1520 680 1640 680 1635 685 1525 685z" fill="#353439"/>
<path d="M560 320 560 360 555 365 555 325zM600 360 600 400 595 405 595 365zM1560 80 1560 120 1555 125 1555 85zM1920 120 1920 280 1915 285 1915 125zM2000 280 2000 720 1995 715 1995 285zM2000 720 1920 720 1915 715 1995 715zM1920 720 1920 880 1915 875 1915 715zM1920 880 1880 880 1875 875 1915 875zM1880 880 1880 1000 1875 995 1875 875zM1880 1000 1720 1000 1715 995 1875 995zM1720 1000 1720 1040 1715 1035 1715 995zM1720 1040 1680 1040 1675 1035 1715 1035zM1680 1040 1680 1080 1675 1075 1675 1035zM1680 1080 1480 1080 1485 1075 1675 1075zM1480 1040 1440 1040 1445 1035 1485 1035zM1440 1000 1320 1000 1315 995 1445 995zM1320 1000 1320 1080 1315 1075 1315 995zM1320 1080 1280 1080 1275 1075 1315 1075zM1280 1080 1280 1120 1275 1115 1275 1075zM1280 1120 1240 1120 1235 1115 1275 1115zM1240 1120 1240 1160 1235 1155 1235 1115zM1240 1160 1160 1160 1155 1155 1235 1155zM1160 1160 1160 1200 1155 1195 1155 1155zM1160 1200 1040 1200 1035 1195 1155 1195zM1040 1200 1040 1240 1035 1235 1035 1195zM1040 1240 1000 1240 995 1235 1035 1235zM1000 1240 1000 1280 995 1275 995 1235zM1000 1280 960 1280 955 1275 995 1275zM960 1280 960 1320 955 1315 955 1275zM960 1320 480 1320 485 1315 955 1315zM480 1280 120 1280 125 1275 485 1275zM120 1120 40 1120 45 1115 125 1115zM1480 960 1480 1000 1475 1005 1475 965zM1520 1000 1520 1040 1515 1045 1515 1005zM1960 560 1920 560 1925 555 1965 555zM1920 520 1880 480 1892.07 485 1925 517.93zM1960 320 1880 320 1885 315 1965 315zM1880 160 1480 160 1482.07 155 1885 155zM1480 160 1440 120 1442.07 115 1482.07 155zM1440 120 1120 120 1117.93 115 1442.07 115zM1120 120 1040 200 1035 197.93 1117.93 115zM1040 200 1040 240 1035 235 1035 197.93zM1040 240 920 240 915 235 1035 235zM920 240 920 280 915 275 915 235zM920 280 840 280 835 275 915 275zM840 280 840 320 835 315 835 275zM840 320 800 320 795 315 835 315zM800 320 800 360 795 355 795 315zM800 360 760 360 755 355 795 355zM760 360 760 440 755 435 755 355zM760 440 560 440 565 435 755 435zM560 400 520 400 525 395 565 395zM520 360 400 360 395 355 525 355zM400 360 400 400 395 395 395 355zM400 400 360 400 355 395 395 395zM360 400 360 440 355 435 355 395zM360 440 240 440 237.93 435 355 435zM240 440 200 480 195 477.93 237.93 435zM200 480 200 560 195 555 195 477.93zM200 560 160 560 155 555 195 555zM160 560 160 680 155 677.93 155 555zM160 680 120 720 117.93 715 155 677.93zM120 720 80 720 75 715 117.93 715zM80 720 80 840 75 845 75 715zM120 840 120 880 115 882.07 115 845zM120 880 160 920 147.93 915 115 882.07zM160 920 120 920 117.93 915 147.93 915zM120 920 80 960 75 957.93 117.93 915zM80 960 80 1080 75 1085 75 957.93zM160 1080 160 1240 155 1245 155 1085zM560 1240 600 1280 597.93 1285 557.93 1245zM520 680 520 720 515 715 515 685zM520 720 400 720 405 715 515 715zM560 720 560 760 555 755 555 725zM560 760 520 760 525 755 555 755zM800 960 800 1000 795 995 795 965zM800 1000 720 1000 725 995 795 995zM1000 520 1000 600 995 595 995 525zM1000 600 920 600 925 595 995 595zM1080 880 1040 880 1045 875 1077.93 875zM1120 800 1120 840 1115 837.93 1115 805zM1120 840 1080 880 1077.93 875 1115 837.93zM1320 400 1320 440 1315 435 1315 405zM1320 440 1240 440 1245 435 1315 435zM1520 680 1480 680 1485 675 1515 675zM1520 640 1520 680 1515 675 1515 645zM1640 680 1640 720 1635 715 1635 685zM1640 720 1520 720 1525 715 1635 715z" fill="#232327"/>
<path d="M120 520 160 520 161 521 121 521zM160 520 160 400 161 401 161 521zM160 400 320 400 321 401 161 401zM320 400 320 360 321 361 321 401zM320 360 360 360 361 361 321 361zM360 360 360 320 361 321 361 361zM360 320 560 320 559 321 361 321zM560 360 600 360 599 361 559 361zM600 400 720 400 721 401 599 401zM720 400 720 320 721 321 721 401zM720 320 760 320 761 321 721 321zM760 320 760 280 761 281 761 321zM760 280 800 280 801 281 761 281zM800 280 800 240 801 241 801 281zM800 240 880 240 881 241 801 241zM880 240 880 200 881 201 881 241zM880 200 1000 200 1001 201 881 201zM1000 200 1000 160 1001 161 1001 201zM1000 160 1040 160 1041 161 1001 161zM1040 160 1040 120 1041 121 1041 161zM1040 120 1080 120 1081 121 1041 121zM1080 120 1080 80 1081 81 1081 121zM1080 80 1560 80 1559 81 1081 81zM1560 120 1920 120 1919 121 1559 121zM1920 280 2000 280 1999 281 1919 281zM1480 1080 1480 1040 1481 1039 1481 1079zM1440 1040 1440 1000 1441 999 1441 1039zM480 1320 480 1280 481 1279 481 1319zM120 1280 120 1120 121 1119 121 1279zM40 1120 40 680 41 681 41 1119zM40 680 120 680 121 681 41 681zM120 680 120 520 121 521 121 681zM920 1280 1000 1200 1001 1200.41 920.41 1281zM1000 1200 1000 1160 1001 1161 1001 1200.41zM1000 1160 1120 1160 1121 1161 1001 1161zM1120 1160 1120 1120 1121 1121 1121 1161zM1120 1120 1200 1120 1201 1121 1121 1121zM1200 1120 1200 1080 1201 1081 1201 1121zM1200 1080 1240 1080 1241 1081 1201 1081zM1240 1080 1240 1040 1241 1041 1241 1081zM1240 1040 1280 1040 1281 1041 1241 1041zM1280 1040 1280 960 1281 961 1281 1041zM1280 960 1480 960 1479 961 1281 961zM1480 1000 1520 1000 1519 1001 1479 1001zM1520 1040 1640 1040 1641 1041 1519 1041zM1640 1040 1640 1000 1641 1001 1641 1041zM1640 1000 1680 1000 1681 1001 1641 1001zM1680 1000 1680 960 1681 961 1681 1001zM1680 960 1800 960 1800.41 961 1681 961zM1800 960 1840 920 1841 920.41 1800.41 961zM1840 920 1840 840 1841 841 1841 920.41zM1840 840 1880 840 1881 841 1841 841zM1880 840 1880 720 1881 720.41 1881 841zM1880 720 1920 680 1920.41 681 1881 720.41zM1920 680 1960 680 1961 681 1920.41 681zM1960 680 1960 560 1961 559 1961 681zM1920 560 1920 520 1921 519.59 1921 559zM1880 480 1920 480 1920.41 481 1882.41 481zM1920 480 1960 440 1961 440.41 1920.41 481zM1960 440 1960 320 1961 319 1961 440.41zM1880 320 1880 160 1881 159 1881 319zM560 440 560 400 561 399 561 439zM520 400 520 360 521 359 521 399zM80 840 120 840 119 841 79 841zM80 1080 160 1080 159 1081 79 1081zM160 1240 560 1240 559.59 1241 159 1241zM600 1280 920 1280 920.41 1281 599.59 1281zM400 720 400 680 401 681 401 719zM400 680 520 680 519 681 401 681zM520 720 560 720 559 721 521 721zM520 760 520 720 521 721 521 759zM720 960 800 960 799 961 721 961zM720 1000 720 960 721 961 721 999zM960 520 1000 520 999 521 960.41 521zM920 600 920 560 921 560.41 921 599zM920 560 960 520 960.41 521 921 560.41zM1040 880 1040 800 1041 801 1041 879zM1040 800 1120 800 1119 801 1041 801zM1240 440 1240 400 1241 401 1241 439zM1240 400 1320 400 1319 401 1241 401zM1480 680 1480 640 1481 641 1481 679zM1480 640 1520 640 1519 641 1481 641zM1520 720 1520 680 1521 681 1521 719zM1520 680 1640 680 1639 681 1521 681z" fill="#2b2b2f"/>
<path d="M1080 100h6.5v26.5h-6.5zM1040 140h6.5v26.5h-6.5zM1000 180h6.5v26.5h-6.5zM880 220h6.5v26.5h-6.5zM800 260h6.5v26.5h-6.5zM760 300h6.5v26.5h-6.5zM360 340h6.5v26.5h-6.5zM320 380h6.5v26.5h-6.5zM720 380h6.5v26.5h-6.5zM160 500h6.5v26.5h-6.5zM120 660h6.5v26.5h-6.5zM1960 660h6.5v26.5h-6.5zM1880 820h6.5v26.5h-6.5zM1680 980h6.5v26.5h-6.5zM1280 1020h6.5v26.5h-6.5zM1640 1020h6.5v26.5h-6.5zM1240 1060h6.5v26.5h-6.5zM1200 1100h6.5v26.5h-6.5zM1120 1140h6.5v26.5h-6.5z" fill="#4e4d52"/>
<path d="M1096 115h3a1 1 0 0 1 1 1v3a1 1 0 0 1 -1 1h-3a1 1 0 0 1 -1 -1v-3a1 1 0 0 1 1 -1zM1056 155h3a1 1 0 0 1 1 1v3a1 1 0 0 1 -1 1h-3a1 1 0 0 1 -1 -1v-3a1 1 0 0 1 1 -1zM1016 195h3a1 1 0 0 1 1 1v23a1 1 0 0 1 -1 1h-3a1 1 0 0 1 -1 -1v-23a1 1 0 0 1 1 -1zM896 235h3a1 1 0 0 1 1 1v23a1 1 0 0 1 -1 1h-3a1 1 0 0 1 -1 -1v-23a1 1 0 0 1 1 -1zM816 275h3a1 1 0 0 1 1 1v23a1 1 0 0 1 -1 1h-3a1 1 0 0 1 -1 -1v-23a1 1 0 0 1 1 -1zM776 315h3a1 1 0 0 1 1 1v23a1 1 0 0 1 -1 1h-3a1 1 0 0 1 -1 -1v-23a1 1 0 0 1 1 -1zM376 355h3a1 1 0 0 1 1 1v23a1 1 0 0 1 -1 1h-3a1 1 0 0 1 -1 -1v-23a1 1 0 0 1 1 -1zM336 395h3a1 1 0 0 1 1 1v23a1 1 0 0 1 -1 1h-3a1 1 0 0 1 -1 -1v-23a1 1 0 0 1 1 -1zM736 395h3a1 1 0 0 1 1 1v23a1 1 0 0 1 -1 1h-3a1 1 0 0 1 -1 -1v-23a1 1 0 0 1 1 -1zM176 515h3a1 1 0 0 1 1 1v23a1 1 0 0 1 -1 1h-3a1 1 0 0 1 -1 -1v-23a1 1 0 0 1 1 -1zM136 675h3a1 1 0 0 1 1 1v3a1 1 0 0 1 -1 1h-3a1 1 0 0 1 -1 -1v-3a1 1 0 0 1 1 -1zM1976 675h3a1 1 0 0 1 1 1v23a1 1 0 0 1 -1 1h-3a1 1 0 0 1 -1 -1v-23a1 1 0 0 1 1 -1zM1896 835h3a1 1 0 0 1 1 1v23a1 1 0 0 1 -1 1h-3a1 1 0 0 1 -1 -1v-23a1 1 0 0 1 1 -1zM1696 995h3a1 1 0 0 1 1 1v23a1 1 0 0 1 -1 1h-3a1 1 0 0 1 -1 -1v-23a1 1 0 0 1 1 -1zM1296 1035h3a1 1 0 0 1 1 1v23a1 1 0 0 1 -1 1h-3a1 1 0 0 1 -1 -1v-23a1 1 0 0 1 1 -1zM1656 1035h3a1 1 0 0 1 1 1v23a1 1 0 0 1 -1 1h-3a1 1 0 0 1 -1 -1v-23a1 1 0 0 1 1 -1zM1256 1075h3a1 1 0 0 1 1 1v23a1 1 0 0 1 -1 1h-3a1 1 0 0 1 -1 -1v-23a1 1 0 0 1 1 -1zM1216 1115h3a1 1 0 0 1 1 1v23a1 1 0 0 1 -1 1h-3a1 1 0 0 1 -1 -1v-23a1 1 0 0 1 1 -1zM1136 1155h3a1 1 0 0 1 1 1v23a1 1 0 0 1 -1 1h-3a1 1 0 0 1 -1 -1v-23a1 1 0 0 1 1 -1z" fill="#29292d"/>
<use href="#spike" x="420" y="380"/>
<use href="#spike" x="460" y="380"/>
<use href="#spike" x="500" y="380"/>
<use href="#spike" x="1940" y="580"/>
<use href="#spike" x="1940" y="620"/>
<use href="#spike" x="1940" y="660"/>
<use href="#spike" x="540" y="700"/>
<use href="#spike" x="1620" y="1020"/>
<use href="#spike" x="1580" y="1020"/>
<use href="#spike" x="1540" y="1020"/>
<use href="#spike" x="100" y="820"/>
<use href="#spike" x="100" y="780"/>
<use href="#spike" x="100" y="740"/>
<use href="#spike" x="1500" y="700"/>
<use href="#bomb" x="820" y="340"/>
<use href="#bomb" x="1940" y="340"/>
<use href="#bomb" x="380" y="700"/>
<use href="#bomb" x="1220" y="1060"/>
<use href="#bomb" x="100" y="1060"/>
<use href="#bomb" x="1660" y="700"/>
<use href="#pup" x="460" y="540"/>
<use href="#pup" x="1020" y="700"/>
<use href="#pup" x="1580" y="860"/>
<use href="#by" x="1220" y="180"/>
<use href="#by" x="1500" y="580"/>
<use href="#by" x="540" y="820"/>
<use href="#by" x="820" y="1220"/>
<use href="#bb" x="1340" y="180"/>
<use href="#br" x="700" y="1220"/>
<use href="#btn" x="1380" y="420"/>
<use href="#btn" x="660" y="980"/>
<use href="#fb" x="1640" y="320"/>
<use href="#fr" x="360" y="1040"/>
</svg></body></html>
